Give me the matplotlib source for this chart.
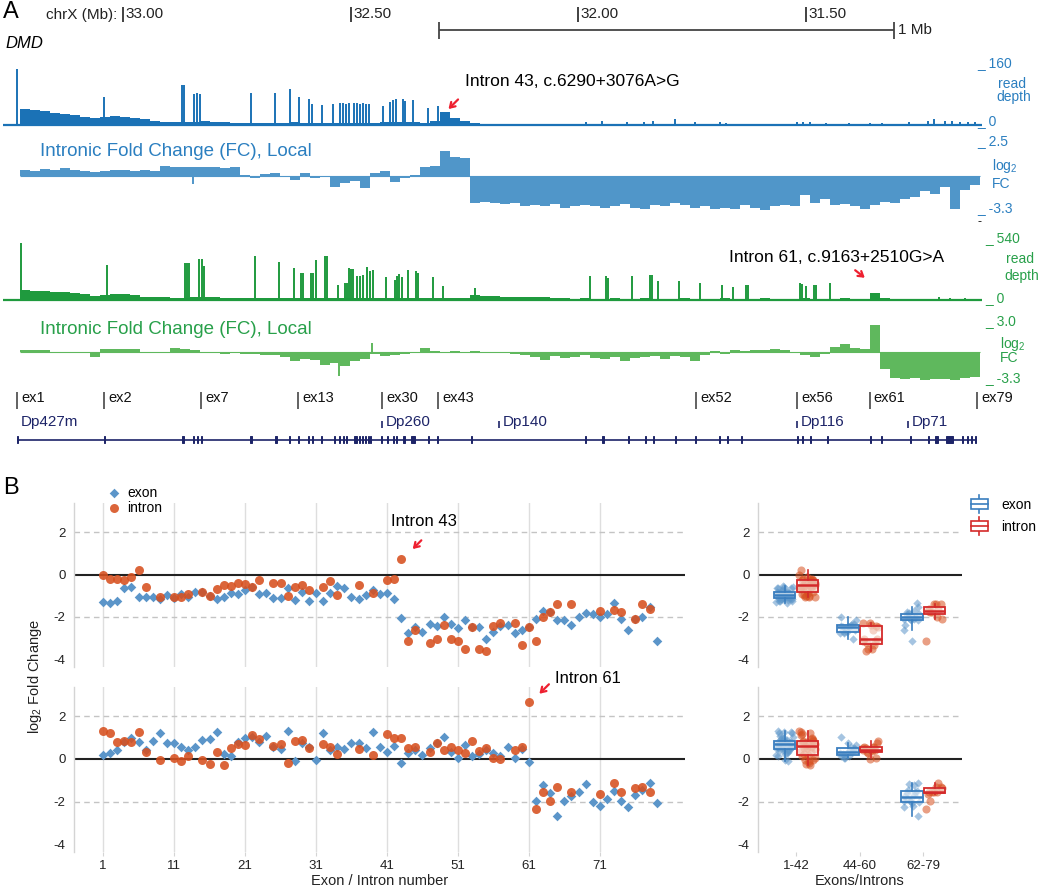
import numpy as np
import matplotlib
matplotlib.use("Agg")
import matplotlib.pyplot as plt
from matplotlib.patches import Rectangle
from matplotlib.lines import Line2D
from matplotlib.legend_handler import HandlerBase

plt.rcParams['font.family'] = ['Liberation Sans', 'DejaVu Sans']
plt.rcParams['mathtext.fontset'] = 'custom'
plt.rcParams['mathtext.rm'] = 'Liberation Sans'
plt.rcParams['mathtext.it'] = 'Liberation Sans:italic'
plt.rcParams['axes.unicode_minus'] = False

# ============================ DATA ============================
# ---- Panel A: genomic ruler (chrX, Mb) ----
chr_ticks_mb = [33.00, 32.50, 32.00, 31.50]
chr_tick_labels = ["33.00", "32.50", "32.00", "31.50"]
scale_bar_start_mb = 32.305
scale_bar_len_mb = 1.0

# ---- coverage bins (Mb) ----
bin_start_mb = 33.2264
bin_width_mb = 0.021978

# sample 1 (blue) read depth, background per bin
s1_depth_bg = [42, 40, 38, 32, 30, 28, 22, 18, 22, 24,
               22, 18, 15, 12, 9, 8, 8, 8, 10, 9,
               8, 6, 5, 6, 6, 6, 6, 7, 6, 6,
               5, 6, 6, 5, 6, 5, 7, 8, 7, 7,
               6, 12, 34, 20, 12, 6, 3, 3, 2, 2,
               2, 2, 2, 2, 2, 2, 2, 3, 2, 2,
               2, 2, 2, 2, 2, 2, 2, 3, 2, 2,
               2, 2, 2, 2, 2, 2, 2, 3, 2, 2,
               2, 2, 2, 2, 2, 2, 2, 3, 2, 2,
               3, 3, 4, 3, 3, 2]
# sample 1 exon read-depth peaks
s1_peak_mb = [33.2330, 33.0418, 32.8710, 32.8659, 32.8440, 32.8374, 32.8308, 32.7194, 32.6653, 32.6330,
              32.6139, 32.5919, 32.5853, 32.5633, 32.5378, 32.5231, 32.5165, 32.5099, 32.5033, 32.4923,
              32.4857, 32.4791, 32.4725, 32.4659, 32.4593, 32.4292, 32.4132, 32.4066, 32.4000, 32.3846,
              32.3802, 32.3626, 32.3297, 32.3077,
              31.9824, 31.9473, 31.8923, 31.8549, 31.8352, 31.7879, 31.7429, 31.6879, 31.6747, 31.5187,
              31.5055, 31.4901, 31.4549, 31.4044, 31.3582, 31.3319, 31.2725, 31.2308, 31.2176, 31.1934,
              31.1780, 31.1604, 31.1429, 31.1275]
s1_peak = [150, 75, 107, 107, 83, 85, 83, 85, 85, 96,
           75, 69, 56, 53, 56, 58, 58, 57, 58, 58,
           60, 57, 58, 55, 55, 50, 62, 68, 70, 69,
           65, 67, 45, 50,
           8, 10, 8, 8, 10, 15, 8, 8, 6, 8,
           8, 8, 6, 5, 5, 5, 8, 12, 15, 12,
           10, 8, 8, 8]
# sample 1 intronic log2 FC per bin
s1_fc = [0.5, 0.45, 0.6, 0.55, 0.7, 0.5, 0.45, 0.35, 0.4, 0.55,
         0.5, 0.45, 0.5, 0.45, 0.85, 0.8, 0.75, 0.8, 0.75, 0.8,
         0.7, 0.75, 0.1, -0.2, 0.15, 0.25, -0.1, -0.3, 0.3, -0.2,
         -0.1, -0.9, -0.6, -0.4, -1.0, 0.3, 0.4, -0.5, -0.2, 0.1,
         0.8, 0.9, 2.1, 1.6, 1.5, -2.3, -2.2, -2.3, -2.4, -2.3,
         -2.6, -2.5, -2.6, -2.4, -2.7, -2.6, -2.5, -2.6, -2.7, -2.6,
         -2.4, -2.7, -2.8, -2.5, -2.6, -2.3, -2.5, -2.7, -2.6, -2.8,
         -2.7, -2.8, -2.5, -2.7, -2.9, -2.6, -2.5, -2.6, -1.6, -2.3,
         -2.0, -2.5, -2.4, -2.6, -2.8, -2.5, -2.2, -2.3, -2.0, -1.8,
         -1.3, -1.5, -0.9, -2.8, -1.2, -0.8]
s1_fc_spike_mb = [32.8455]
s1_fc_spike = [-0.7]

# sample 2 (green) read depth
s2_depth_bg = [90, 80, 78, 70, 65, 60, 48, 35, 40, 55,
               50, 40, 30, 25, 22, 20, 20, 22, 25, 22,
               20, 18, 16, 18, 18, 16, 16, 16, 15, 15,
               15, 14, 15, 15, 15, 14, 15, 16, 15, 16,
               15, 16, 18, 15, 14, 40, 35, 32, 28, 28,
               28, 26, 24, 15, 13, 12, 13, 12, 12, 13,
               12, 12, 13, 12, 12, 12, 13, 12, 12, 12,
               13, 12, 12, 12, 13, 12, 12, 12, 13, 12,
               12, 12, 13, 12, 12, 60, 20, 10, 10, 10,
               10, 10, 10, 10, 10, 10]
s2_peak_mb = [33.2242, 33.0352, 32.8637, 32.8593, 32.8549, 32.8330, 32.8264, 32.8220, 32.7099, 32.6571,
              32.6242, 32.6088, 32.6044, 32.5868, 32.5824, 32.5758, 32.5560, 32.5516, 32.5275, 32.5121,
              32.5077, 32.5033, 32.4989, 32.4945, 32.4857, 32.4791, 32.4725, 32.4637, 32.4571, 32.4505,
              32.4220, 32.4022, 32.3978, 32.3934, 32.3868, 32.3736, 32.3560, 32.3516, 32.3187, 32.2967,
              32.2264,
              31.9736, 31.9385, 31.9341, 31.8813, 31.8418, 31.8374, 31.8242, 31.7780, 31.7319, 31.6835,
              31.6593, 31.6308, 31.6264, 31.5121, 31.5077, 31.4989, 31.4813, 31.4769, 31.4462, 31.2066,
              31.1824, 31.1495]
s2_peak = [488, 300, 315, 315, 315, 350, 350, 290, 375, 325,
           275, 230, 230, 230, 230, 345, 375, 375, 130, 150,
           150, 275, 265, 270, 210, 210, 215, 280, 250, 255,
           200, 170, 210, 225, 200, 260, 250, 230, 195, 120,
           100,
           208, 208, 190, 208, 214, 214, 165, 165, 150, 128,
           114, 128, 128, 143, 140, 120, 130, 130, 150, 25,
           20, 18]
s2_fc = [0.25, 0.2, 0.25, 0.0, -0.1, 0.05, -0.1, -0.5, 0.3, 0.35,
         0.35, 0.3, 0.0, -0.1, 0.05, 0.4, 0.3, 0.2, -0.1, -0.15,
         -0.2, -0.15, -0.25, -0.2, -0.3, -0.3, -0.5, -0.9, -0.7, -0.8,
         -1.4, -1.2, -1.5, -0.9, -0.7, -0.2, -0.4, -0.3, -0.2, -0.1,
         0.45, 0.1, -0.1, 0.1, 0.05, 0.15, -0.05, 0.0, -0.15, -0.2,
         -0.3, -0.5, -0.8, -0.4, -0.6, -0.5, -0.3, -0.6, -0.7, -0.5,
         -0.9, -0.6, -0.5, -0.4, -0.7, -0.4, -0.5, -0.9, -0.3, 0.1,
         -0.2, 0.2, 0.1, 0.2, 0.25, 0.3, 0.25, 0.05, -0.3, -0.5,
         -0.2, 0.5, 0.8, 0.4, 0.3, 2.8, -1.8, -2.7, -2.8, -2.7,
         -2.9, -2.8, -2.8, -2.9, -2.7, -2.6]
s2_fc_spike_mb = [32.5246, 32.4521]
s2_fc_spike = [-2.5, 0.9]

# ---- gene annotation ----
exon_label_names = ["ex1", "ex2", "ex7", "ex13", "ex30", "ex43", "ex52", "ex56", "ex61", "ex79"]
exon_label_mb = [33.2323, 33.0411, 32.8292, 32.6160, 32.4314, 32.3070, 31.7413, 31.5187, 31.3593, 31.1237]
isoform_names = ["Dp427m", "Dp260", "Dp140", "Dp116", "Dp71"]
isoform_mb = [33.2323, 32.4308, 32.1736, 31.5187, 31.2747]
gene_exon_mb = [33.2323, 33.0411, 32.8688, 32.8455, 32.8367, 32.8279, 32.7193, 32.6637, 32.6345, 32.6147,
                32.5927, 32.5840, 32.5633, 32.5356, 32.5246, 32.5158, 32.5084, 32.4916, 32.4879, 32.4807,
                32.4732, 32.4666, 32.4600, 32.4565, 32.4314, 32.4182, 32.4059, 32.3985, 32.3818, 32.3633,
                32.3604, 32.3290, 32.3084, 32.2336, 31.9840, 31.9451, 31.8886, 31.8514, 31.8343, 31.7864,
                31.7413, 31.6895, 31.6716, 31.6398, 31.5167, 31.5073, 31.4895, 31.4523, 31.3578, 31.3321,
                31.2686, 31.2299, 31.2127, 31.1833, 31.1547, 31.1446, 31.1354, 31.1268]
gene_exon_w_mb = [0.0025, 0.0025, 0.005, 0.0025, 0.0025, 0.0025, 0.005, 0.0025, 0.0025, 0.0025,
                  0.0025, 0.0025, 0.0025, 0.0025, 0.0025, 0.0025, 0.0025, 0.0025, 0.0025, 0.0025,
                  0.0025, 0.0025, 0.0025, 0.0025, 0.0025, 0.0025, 0.0025, 0.0025, 0.005, 0.007,
                  0.0025, 0.0025, 0.0025, 0.0025, 0.0025, 0.005, 0.0025, 0.0025, 0.0025, 0.0025,
                  0.0025, 0.0025, 0.0025, 0.0025, 0.0025, 0.0025, 0.0025, 0.0025, 0.0025, 0.0025,
                  0.0025, 0.0025, 0.006, 0.016, 0.0025, 0.0025, 0.0025, 0.0025]

# ---- Panel B: log2 fold change per exon / intron ----
exon_numbers = list(range(1, 80))
s1_exon = [-1.28, -1.34, -1.25, -0.66, -0.59, -1.08, -1.08, -1.08, -1.14, -0.97,
           -1.11, -0.91, -1.08, -0.83, -0.83, -1.02, -1.14, -1.08, -0.86, -0.94,
           -0.75, -0.58, -0.94, -0.89, -1.11, -1.11, -0.62, -1.20, -0.83, -1.23,
           -0.89, -1.27, -0.87, -0.53, -0.66, -1.05, -1.17, -0.98, -0.73, -0.92,
           -0.88, -1.15, -2.05, -2.75, -2.49, -2.70, -2.32, -2.43, -2.00, -2.32,
           -2.53, -2.14, -2.46, -2.49, -3.05, -2.70, -2.43, -2.40, -2.75, -2.60,
           -2.47, -2.12, -1.71, -1.76, -2.17, -2.17, -2.37, -1.99, -1.83, -1.88,
           -1.99, -1.88, -1.34, -2.09, -2.61, -2.12, -1.99, -1.52, -3.16]
s2_exon = [0.17, 0.27, 0.44, 0.80, 0.98, 0.82, 0.40, 0.85, 1.22, 0.77,
           0.73, 0.57, 0.40, 0.54, 0.87, 0.93, 1.25, 0.25, 0.14, 0.82,
           0.98, 1.01, 0.81, 1.06, 0.57, 0.49, 1.33, -0.09, 0.73, 0.55,
           -0.05, 1.20, 0.43, 0.58, 0.46, 0.77, 0.76, 0.51, 1.26, 0.55,
           0.33, 0.63, -0.17, 0.28, 0.40, 0.17, 0.50, 0.74, 1.03, 0.33,
           0.05, 0.66, 0.16, 0.24, 0.43, 0.30, 0.14, 0.55, 0.03, 0.46,
           -0.16, -1.98, -1.20, -1.58, -2.69, -1.96, -1.74, -1.53, -1.17, -2.04,
           -2.23, -1.88, -1.52, -1.99, -2.25, -1.69, -1.44, -1.11, -2.07]
intron_numbers = [1, 2, 3, 4, 5, 6, 7, 9, 11, 12, 13, 15, 16, 17, 18, 19, 20, 21, 22, 23,
                  25, 26, 27, 28, 29, 30, 32, 33, 34, 37, 39, 41, 42, 43, 44, 45, 47, 48, 49, 50,
                  51, 52, 53, 54, 55, 56, 57, 59, 60, 61, 62, 63, 64, 65, 67, 71, 73, 74, 76, 77, 78]
s1_intron = [0.0, -0.2, -0.19, -0.27, -0.11, 0.22, -0.6, -1.04, -1.07, -1.04, -0.93, -0.84, -1.0, -0.69,
             -0.5, -0.52, -0.42, -0.45, -0.58, -0.25,
             -0.39, -0.39, -1.0, -0.58, -0.5, -0.73, -0.58, -0.31, -0.97, -0.5, -0.86, -0.27, -0.19, 0.75,
             -3.15, -2.62, -3.25, -3.05, -2.38, -3.05,
             -3.15, -3.5, -2.47, -3.5, -3.6, -2.41, -2.3, -2.29, -3.34, -2.47, -3.15, -1.99, -1.76, -1.41,
             -1.41, -1.72, -1.69, -1.77, -2.12, -1.41, -1.64]
s2_intron = [1.30, 1.20, 0.82, 0.85, 0.80, 1.26, 0.32, -0.06, 0.05, -0.11, 0.16, -0.06, -0.25, 0.33,
             -0.30, 0.52, 0.70, 0.65, 1.14, 0.93,
             0.60, 0.68, -0.17, 0.85, 0.88, 0.52, 0.68, 0.58, 0.22, 0.47, 0.20, 1.16, 0.97, 0.97,
             0.53, 0.55, 0.31, 0.74, 0.41, 0.55,
             0.42, 0.30, 0.84, 0.39, 0.50, 0.06, 0.02, 0.42, 0.57, 2.67, -2.36, -1.55, -1.99, -1.31,
             -1.55, -1.64, -1.11, -1.55, -1.38, -1.33, -1.55]
group_labels = ["1-42", "44-60", "62-79"]
group_ranges = [(1, 42), (44, 60), (62, 79)]

# ============================ STYLE ============================
C_BLUE_D = "#1b72b6"
C_BLUE_FC = "#5096c9"
C_BLUE_T = "#2b7fc0"
C_GREEN_D = "#1f9a3e"
C_GREEN_FC = "#5fb85d"
C_GREEN_T = "#28a04a"
C_NAVY = "#1d2468"
C_RED = "#ee2030"
C_EXON = "#5b95c9"
C_INTRON = "#d7501f"
C_BOX_E = "#3a7ebf"
C_BOX_I = "#d42a2a"

W, H = 1050, 889
fig = plt.figure(figsize=(W / 100, H / 100), dpi=100)
fig.patch.set_facecolor("white")


def px_axes(x0, y0, x1, y1):
    return fig.add_axes([x0 / W, 1 - y1 / H, (x1 - x0) / W, (y1 - y0) / H])


XL, XR = 5, 985
MB_L = 33.0 + (123 - XL) / 455.0
MB_R = 33.0 - (XR - 123) / 455.0

nb = len(s1_fc)
centers = bin_start_mb - (np.arange(nb) + 0.5) * bin_width_mb
gene_end_mb = bin_start_mb - nb * bin_width_mb


def track_ax(y0, y1, ylim):
    ax = px_axes(XL, y0, XR, y1)
    ax.set_xlim(MB_L, MB_R)
    ax.set_ylim(*ylim)
    ax.axis("off")
    return ax


def draw_depth(ax, bg, pk_mb, pk, color):
    ax.bar(centers, bg, width=bin_width_mb * 1.02, color=color, linewidth=0)
    ax.vlines(pk_mb, 0, pk, color=color, lw=1.4)
    ax.hlines(0, 33.0 + (123 - 3) / 455.0, gene_end_mb - 0.004, color=color, lw=1.6, clip_on=False)


def draw_fc(ax, fc, spk_mb, spk, color):
    ax.bar(centers, fc, width=bin_width_mb * 1.02, color=color, linewidth=0)
    ax.vlines(spk_mb, 0, spk, color=color, lw=1.4)
    ax.hlines(0, bin_start_mb, gene_end_mb, color=color, lw=0.8)


# ---- ruler ----
axr = px_axes(XL, 0, XR, 45)
axr.set_xlim(MB_L, MB_R)
axr.set_ylim(45, 0)
axr.axis("off")
axr.vlines(chr_ticks_mb, 6.5, 22, color="#333333", lw=1.3)
for t, lab in zip(chr_ticks_mb, chr_tick_labels):
    axr.annotate(lab, (t, 14.5), xytext=(2, 0), textcoords="offset points",
                 ha="left", va="center", fontsize=11, color="#222222")
sb_end = scale_bar_start_mb - scale_bar_len_mb
axr.hlines(30, scale_bar_start_mb, sb_end, color="#444444", lw=1.3)
axr.vlines([scale_bar_start_mb, sb_end], 22, 39, color="#444444", lw=1.3)
axr.annotate("1 Mb", (sb_end, 30), xytext=(3, 0), textcoords="offset points",
             ha="left", va="center", fontsize=11, color="#222222")

# ---- tracks ----
ax1 = track_ax(65, 125, (0, 160))
draw_depth(ax1, s1_depth_bg, s1_peak_mb, s1_peak, C_BLUE_D)
ax2 = track_ax(146.8, 214.6, (-3.3, 2.5))
draw_fc(ax2, s1_fc, s1_fc_spike_mb, s1_fc_spike, C_BLUE_FC)
ax3 = track_ax(237, 300, (0, 540))
draw_depth(ax3, s2_depth_bg, s2_peak_mb, s2_peak, C_GREEN_D)
ax4 = track_ax(323.5, 383.4, (-3.3, 3.0))
draw_fc(ax4, s2_fc, s2_fc_spike_mb, s2_fc_spike, C_GREEN_FC)

# ---- gene model ----
axg = px_axes(XL, 385, XR, 450)
axg.set_xlim(MB_L, MB_R)
axg.set_ylim(450, 385)
axg.axis("off")
axg.vlines(exon_label_mb, 391.5, 408.5, color="#555555", lw=1.3)
for name, mb in zip(exon_label_names, exon_label_mb):
    axg.annotate(name, (mb, 398.5), xytext=(3, 0), textcoords="offset points",
                 ha="left", va="center", fontsize=10.5, color="#111111")
axg.vlines(isoform_mb[1:], 421, 427.5, color=C_NAVY, lw=1.2)
for name, mb in zip(isoform_names, isoform_mb):
    axg.annotate(name, (mb, 422), xytext=(2.5, 0), textcoords="offset points",
                 ha="left", va="center", fontsize=11, color=C_NAVY)
axg.hlines(439.5, gene_exon_mb[0], gene_exon_mb[-1], color=C_NAVY, lw=1.2)
axg.bar(gene_exon_mb, 7, bottom=436, width=gene_exon_w_mb, color=C_NAVY,
        edgecolor=C_NAVY, linewidth=0.7)

# ---- overlay for free text ----
ov = fig.add_axes([0, 0, 1, 1])
ov.set_xlim(0, W)
ov.set_ylim(H, 0)
ov.axis("off")
ov.patch.set_alpha(0)

ov.text(3, 12, "A", fontsize=17, ha="left", va="center")
ov.text(3, 488, "B", fontsize=17, ha="left", va="center")
ov.text(117, 15, "chrX (Mb):", fontsize=11, ha="right", va="center", color="#222222")
ov.text(5, 43.5, "DMD", fontsize=12, ha="left", va="center", style="italic")
ov.text(40, 152, "Intronic Fold Change (FC), Local", fontsize=13.5, color=C_BLUE_T,
        ha="left", va="center")
ov.text(40, 329, "Intronic Fold Change (FC), Local", fontsize=13.5, color=C_GREEN_T,
        ha="left", va="center")


def side_labels(u, top, topb, mid1, mid1b, mid2, mid2b, bot, botb, color, center_mid):
    fs = 10
    ov.text(u, topb, "_ " + top, fontsize=fs, color=color, ha="left", va="baseline")
    if center_mid:
        ov.text(u + 35, mid1b, mid1, fontsize=fs, color=color, ha="center", va="baseline")
        ov.text(u + 37, mid2b, mid2, fontsize=fs, color=color, ha="center", va="baseline")
    else:
        ov.text(u + 15, mid1b, mid1, fontsize=fs, color=color, ha="left", va="baseline")
        ov.text(u + 15, mid2b, mid2, fontsize=fs, color=color, ha="left", va="baseline")
    ov.text(u, botb, "_ " + bot, fontsize=fs, color=color, ha="left", va="baseline")


side_labels(977, "160", 67, "read", 88, "depth", 101, "0", 125, C_BLUE_T, True)
side_labels(977, "2.5", 145, "log$_2$", 170, "FC", 188, "-3.3", 212, C_BLUE_T, False)
ov.text(978, 222, "-", fontsize=9, color="#111111", ha="left", va="center")
side_labels(985, "540", 242, "read", 263, "depth", 280, "0", 302, C_GREEN_T, True)
side_labels(985, "3.0", 325, "log$_2$", 348, "FC", 362, "-3.3", 382, C_GREEN_T, False)

ov.text(465, 81, "Intron 43, c.6290+3076A>G", fontsize=12.5, ha="left", va="center")
ov.annotate("", xy=(446.5, 111), xytext=(460, 97.5),
            arrowprops=dict(arrowstyle="->,head_length=0.35,head_width=0.22", color=C_RED, lw=1.6))
ov.text(729, 257, "Intron 61, c.9163+2510G>A", fontsize=12.5, ha="left", va="center")
ov.annotate("", xy=(867, 279.5), xytext=(853, 268.5),
            arrowprops=dict(arrowstyle="->,head_length=0.35,head_width=0.22", color=C_RED, lw=1.6))

# ============================ PANEL B ============================
YLIM = (-4.37, 3.38)


def style_common(ax):
    for s in ["top", "right", "bottom"]:
        ax.spines[s].set_visible(False)
    ax.spines["left"].set_color("#d4d4d4")
    ax.spines["left"].set_linewidth(1.0)
    ax.set_ylim(*YLIM)
    ax.set_yticks([-4, -2, 0, 2])
    ax.set_yticklabels(["-4", "-2", "0", "2"])
    ax.tick_params(axis="y", length=0, labelsize=9.5, pad=6, labelcolor="#222222")
    ax.tick_params(axis="x", length=3, color="#d4d4d4", labelsize=9.5, pad=3, labelcolor="#222222")
    ax.axhline(0, color="#222222", lw=1.5, zorder=2)
    for yv in (2, -2):
        ax.axhline(yv, color="#c4c4c4", lw=1.0, ls=(0, (4, 3)), zorder=1)


def scatter_ax(y0, y1, exon_vals, intron_vals, show_x):
    ax = px_axes(74, y0, 685, y1)
    ax.set_xlim(-3.1, 83)
    style_common(ax)
    ax.set_xticks([1, 11, 21, 31, 41, 51, 61, 71])
    ax.grid(axis="x", color="#dedede", lw=1.0, zorder=0)
    ax.set_axisbelow(True)
    se = ax.scatter(exon_numbers, exon_vals, marker="D", s=24, color=C_EXON, lw=0, zorder=3, label="exon")
    si = ax.scatter(intron_numbers, intron_vals, marker="o", s=42, color=C_INTRON, alpha=0.88, lw=0,
                    zorder=4, label="intron")
    if not show_x:
        ax.tick_params(axis="x", labelbottom=False, length=0)
    return ax, se, si


axs1, se, si = scatter_ax(503, 667, s1_exon, s1_intron, False)
axs2, _, _ = scatter_ax(687, 852, s2_exon, s2_intron, True)
axs2.set_xlabel("Exon / Intron number", fontsize=10.5, labelpad=1, color="#222222")

arrow_kw = dict(arrowstyle="->,head_length=0.35,head_width=0.22", color=C_RED, lw=1.6)
axs1.text(46.15, 2.5, "Intron 43", fontsize=12, ha="center", va="center")
axs1.annotate("", xy=(44.35, 1.11), xytext=(46.12, 1.71), arrowprops=arrow_kw)
axs2.text(64.7, 3.79, "Intron 61", fontsize=12, ha="left", va="center", clip_on=False)
axs2.annotate("", xy=(62.2, 2.97), xytext=(64.1, 3.6), arrowprops=arrow_kw, annotation_clip=False)

fig.legend([se, si], ["exon", "intron"], loc="upper left",
           bbox_to_anchor=(108 / W, 1 - 486 / H), bbox_transform=fig.transFigure,
           frameon=False, fontsize=10, handlelength=0.8, handletextpad=0.6,
           labelspacing=0.05, borderpad=0, borderaxespad=0, scatterpoints=1)

fig.text(35 / W, 1 - 677 / H, "log$_2$ Fold Change", rotation=90, ha="center", va="center",
         fontsize=10.5, color="#222222")


def jitter(n, width):
    return (((np.arange(n) * 0.6180339887) % 1.0) - 0.5) * width


def box_ax(y0, y1, exon_vals, intron_vals, show_x):
    ax = px_axes(758, y0, 962, y1)
    ax.set_xlim(0.4, 3.61)
    style_common(ax)
    ax.set_xticks([1, 2, 3])
    ev = np.array(exon_vals)
    iv = np.array(intron_vals)
    en = np.array(exon_numbers)
    inn = np.array(intron_numbers)
    for g, (lo, hi) in enumerate(group_ranges, start=1):
        for vals, nums, off, col, mk, sz, box_col in (
                (ev, en, -0.18, C_EXON, "D", 18, C_BOX_E),
                (iv, inn, 0.18, C_INTRON, "o", 34, C_BOX_I)):
            sel = vals[(nums >= lo) & (nums <= hi)]
            xs = g + off + jitter(len(sel), 0.26)
            ax.scatter(xs, sel, marker=mk, s=sz, color=col, alpha=0.55, lw=0, zorder=2)
            ax.boxplot([sel], positions=[g + off], widths=0.34, patch_artist=True,
                       showfliers=False, whis=1.5, manage_ticks=False, zorder=3,
                       boxprops=dict(facecolor=(1, 1, 1, 0.55), edgecolor=box_col, lw=1.3),
                       medianprops=dict(color=box_col, lw=1.8),
                       whiskerprops=dict(color=box_col, lw=1.2),
                       capprops=dict(lw=0))
    if show_x:
        ax.set_xticklabels(group_labels)
        ax.set_xlabel("Exons/Introns", fontsize=10.5, labelpad=1, color="#222222")
    else:
        ax.tick_params(axis="x", labelbottom=False, length=0)
    return ax


axb1 = box_ax(503, 667, s1_exon, s1_intron, False)
axb2 = box_ax(687, 852, s2_exon, s2_intron, True)


class BoxIcon(HandlerBase):
    def create_artists(self, legend, orig_handle, xdescent, ydescent, width, height, fontsize, trans):
        c = orig_handle.get_edgecolor()
        x0, y0 = -xdescent, -ydescent
        cx = x0 + width / 2
        bw = width * 0.9
        rect = Rectangle((cx - bw / 2, y0 + height * 0.15), bw, height * 0.7, facecolor="white",
                         edgecolor=c, lw=1.2, transform=trans)
        med = Line2D([cx - bw / 2, cx + bw / 2], [y0 + height * 0.5] * 2, color=c, lw=1.2, transform=trans)
        wl = Line2D([cx, cx], [y0 - height * 0.12, y0 + height * 0.15], color=c, lw=1.2, transform=trans)
        wu = Line2D([cx, cx], [y0 + height * 0.85, y0 + height * 1.12], color=c, lw=1.2, transform=trans)
        return [wl, wu, rect, med]


h_e = Rectangle((0, 0), 1, 1, edgecolor=C_BOX_E, facecolor="white")
h_i = Rectangle((0, 0), 1, 1, edgecolor=C_BOX_I, facecolor="white")
fig.legend([h_e, h_i], ["exon", "intron"], loc="upper left",
           bbox_to_anchor=(970 / W, 1 - 497 / H), bbox_transform=fig.transFigure,
           frameon=False, fontsize=10, handlelength=1.35, handleheight=1.25, handletextpad=0.9,
           labelspacing=0.5, borderpad=0, borderaxespad=0,
           handler_map={h_e: BoxIcon(), h_i: BoxIcon()})

fig.savefig("out.png", dpi=100, facecolor="white")
